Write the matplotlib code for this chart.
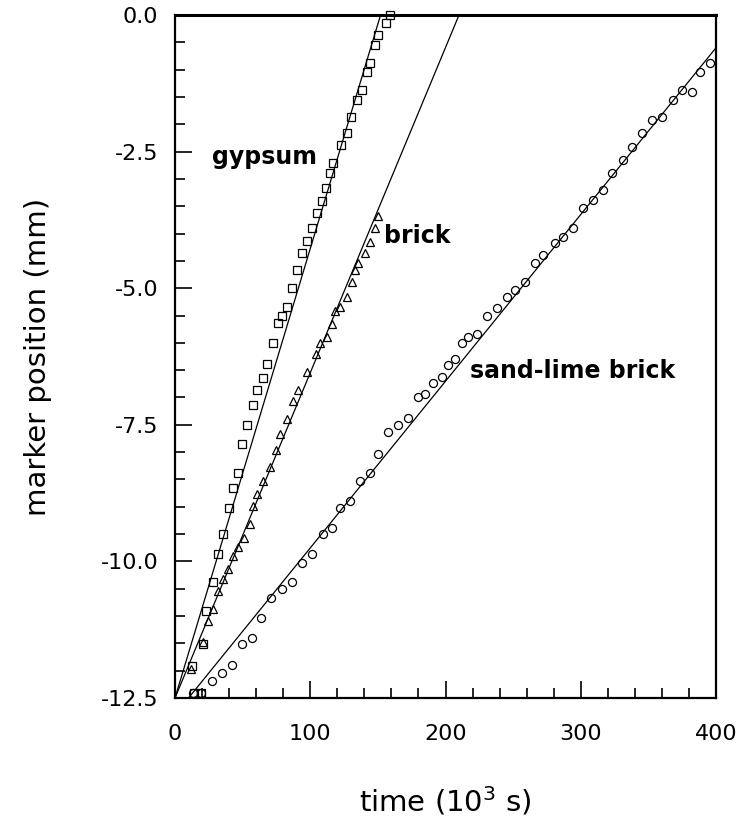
import matplotlib
matplotlib.use("Agg")
import matplotlib.pyplot as plt
from matplotlib.ticker import MultipleLocator

plt.rcParams['font.family'] = ['DejaVu Sans']

# ---- data (time in 10^3 s, marker position in mm) ----
gypsum_t = [14.0, 19.2, 12.6, 20.7, 22.9, 28.1, 31.8, 35.5, 39.9, 42.9, 46.6, 49.5,
            53.2, 57.7, 60.6, 65.1, 68.0, 72.5, 76.2, 79.1, 82.8, 86.5, 90.2, 93.9,
            97.6, 101.3, 105.0, 108.7, 111.6, 114.6, 116.8, 122.7, 127.2, 130.1,
            134.6, 138.3, 142.0, 144.2, 147.9, 150.1, 156.0, 159.0]
gypsum_y = [-12.41, -12.41, -11.91, -11.51, -10.91, -10.37, -9.86, -9.49, -9.02, -8.65,
            -8.38, -7.86, -7.50, -7.13, -6.87, -6.65, -6.38, -6.01, -5.63, -5.50,
            -5.35, -5.00, -4.66, -4.36, -4.14, -3.89, -3.63, -3.41, -3.17, -2.90,
            -2.71, -2.38, -2.16, -1.87, -1.56, -1.37, -1.04, -0.88, -0.55, -0.37,
            -0.15, 0.0]

brick_t = [11.8, 20.7, 24.4, 28.1, 31.8, 35.5, 39.2, 42.9, 46.6, 51.0, 55.5, 57.7,
           60.6, 65.1, 70.2, 74.7, 77.6, 82.8, 87.2, 90.9, 97.6, 104.3, 107.2, 112.4,
           116.1, 118.3, 122.0, 127.2, 130.9, 133.1, 135.3, 140.5, 144.2, 147.9, 150.1]
brick_y = [-11.97, -11.47, -11.09, -10.87, -10.54, -10.32, -10.14, -9.90, -9.73, -9.57,
           -9.31, -8.98, -8.76, -8.52, -8.27, -7.97, -7.66, -7.39, -7.06, -6.87,
           -6.54, -6.20, -6.01, -5.90, -5.65, -5.41, -5.35, -5.17, -4.89, -4.67,
           -4.53, -4.36, -4.16, -3.89, -3.67]

sandlime_t = [13.3, 19.2, 27.4, 34.8, 42.1, 49.5, 56.9, 63.6, 71.0, 79.1, 86.5, 93.9,
              101.3, 109.4, 116.1, 122.0, 129.4, 136.8, 144.2, 150.1, 157.5, 164.9,
              172.3, 179.7, 184.8, 190.8, 197.4, 201.8, 207.0, 212.2, 216.6, 223.3,
              230.7, 238.1, 245.5, 251.4, 258.8, 266.2, 272.1, 281.0, 286.9, 294.3,
              301.7, 309.1, 316.5, 323.1, 331.2, 337.9, 345.3, 352.7, 360.1, 368.2,
              374.9, 382.3, 388.2, 395.6]
sandlime_y = [-12.41, -12.41, -12.19, -12.04, -11.90, -11.51, -11.40, -11.03, -10.67,
              -10.50, -10.37, -10.03, -9.86, -9.49, -9.38, -9.02, -8.89, -8.52, -8.39,
              -8.03, -7.64, -7.51, -7.37, -7.00, -6.93, -6.74, -6.63, -6.41, -6.29,
              -6.01, -5.90, -5.83, -5.50, -5.37, -5.17, -5.04, -4.89, -4.53, -4.40,
              -4.18, -4.07, -3.89, -3.54, -3.39, -3.21, -2.90, -2.66, -2.42, -2.16,
              -1.92, -1.87, -1.56, -1.37, -1.41, -1.04, -0.88]

# fitted lines (end points)
gypsum_fit_t = [0.0, 152.0]
gypsum_fit_y = [-12.5, 0.0]
brick_fit_t = [0.0, 210.0]
brick_fit_y = [-12.5, 0.0]
sandlime_fit_t = [10.0, 400.0]
sandlime_fit_y = [-12.5, -0.6]

labels = ["gypsum", "brick", "sand-lime brick"]
label_pos = [(27.5, -2.72), (154.5, -4.17), (218.0, -6.64)]

x_ticks = [0, 100, 200, 300, 400]
y_ticks = [0.0, -2.5, -5.0, -7.5, -10.0, -12.5]

# ---- figure ----
fig = plt.figure(figsize=(7.45, 8.19), dpi=100)
ax = fig.add_axes([175/745, 1 - 698/819, (716 - 175)/745, (698 - 15)/819])

ms_kw = dict(linestyle='none', mfc='none', mec='black', mew=0.9)
ax.plot(gypsum_t, gypsum_y, marker='s', ms=6.2, **ms_kw, clip_on=False)
ax.plot(brick_t, brick_y, marker='^', ms=5.8, **ms_kw, clip_on=False)
ax.plot(sandlime_t, sandlime_y, marker='o', ms=5.8, **ms_kw, clip_on=False)

ax.plot(gypsum_fit_t, gypsum_fit_y, color='black', lw=0.9)
ax.plot(brick_fit_t, brick_fit_y, color='black', lw=0.9)
ax.plot(sandlime_fit_t, sandlime_fit_y, color='black', lw=0.9)

for txt, (tx, ty) in zip(labels, label_pos):
    ax.text(tx, ty, txt, fontsize=17, fontweight='bold', ha='left', va='baseline')

ax.set_xlim(0, 400)
ax.set_ylim(-12.5, 0)
ax.set_xticks(x_ticks)
ax.set_xticklabels([str(v) for v in x_ticks])
ax.set_yticks(y_ticks)
ax.set_yticklabels([f"{v:.1f}" for v in y_ticks])
ax.xaxis.set_minor_locator(MultipleLocator(20))
ax.yaxis.set_minor_locator(MultipleLocator(0.5))

ax.tick_params(which='both', direction='in', top=False, right=False, width=1.2)
ax.tick_params(which='major', length=12, labelsize=16)
ax.tick_params(axis='y', which='major', pad=12)
ax.tick_params(axis='x', which='major', pad=19)
ax.tick_params(which='minor', length=7)

for s in ax.spines.values():
    s.set_linewidth(1.6)
ax.spines['top'].set_linewidth(2.2)

ax.set_xlabel("time (10$^3$ s)", fontsize=21)
ax.set_ylabel("marker position (mm)", fontsize=21)
ax.xaxis.set_label_coords(0.5, -0.127)
ax.yaxis.set_label_coords(-0.227, 0.5)

fig.savefig("out.png", dpi=100)
